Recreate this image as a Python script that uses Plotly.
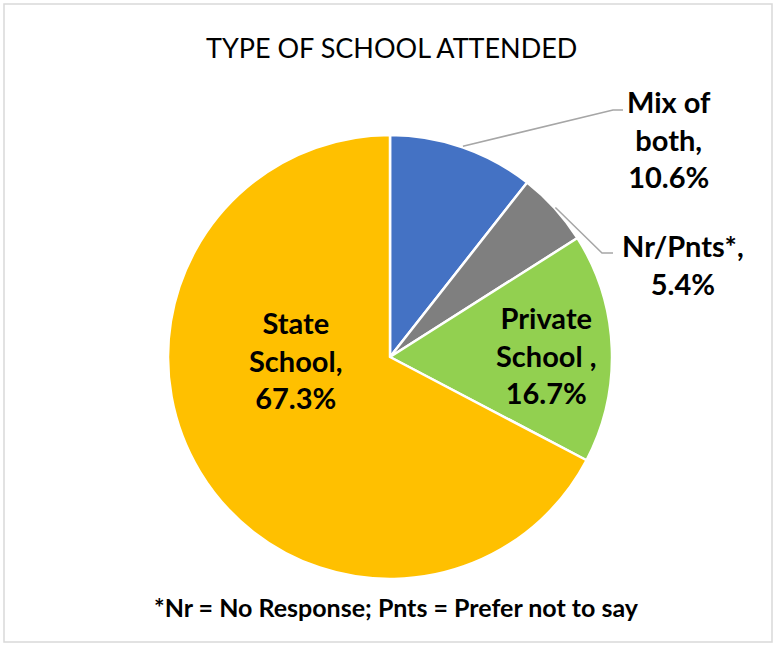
import math
import plotly.graph_objects as go

# Survey shares by school type (clockwise from 12 o'clock)
categories = ["Mix of both", "Nr/Pnts*", "Private School", "State School"]
shares = [10.6, 5.4, 16.7, 67.3]
label_lines = ["Mix of<br>both,", "Nr/Pnts*,", "Private<br>School ,", "State<br>School,"]
title_text = "TYPE OF SCHOOL ATTENDED"
footnote_text = "*Nr = No Response; Pnts = Prefer not to say"

colors = ["#4472C4", "#7F7F7F", "#92D050", "#FFC000"]

W, H = 775, 645
CX, CY, R = 390, 357, 222          # pie centre / radius in pixels
FONT = "Lato"

# label centres (px) and, for outside labels, the leader-line elbow (px)
label_pos = [(669, 139), (683, 264), (546, 355), (296, 360)]
elbows = [((613, 110), (623, 110)), ((602, 253), (613, 253)), None, None]


def to_paper(x, y):
    return x / W, 1 - y / H


fig = go.Figure(
    go.Pie(
        labels=categories,
        values=shares,
        sort=False,
        direction="clockwise",
        rotation=0,
        marker=dict(colors=colors, line=dict(color="white", width=2.5)),
        textinfo="none",
        hoverinfo="label+percent",
        showlegend=False,
        domain=dict(x=[(CX - R) / W, (CX + R) / W],
                    y=[1 - (CY + R) / H, 1 - (CY - R) / H]),
    )
)

annotations = []
shapes = []

total = sum(shares)
cum = 0.0
for i, v in enumerate(shares):
    mid = (cum + v / 2) / total * 2 * math.pi
    cum += v
    lx, ly = to_paper(*label_pos[i])
    annotations.append(dict(
        x=lx, y=ly, xref="paper", yref="paper", showarrow=False,
        xanchor="center", yanchor="middle",
        text=f"<b>{label_lines[i]}<br>{v:.1f}%</b>",
        font=dict(family=FONT, size=29, color="black"), align="center",
    ))
    if elbows[i] is not None:
        sx = CX + (R + 1) * math.sin(mid)
        sy = CY - (R + 1) * math.cos(mid)
        pts = [(sx, sy), elbows[i][0], elbows[i][1]]
        path = "M " + " L ".join(f"{to_paper(x, y)[0]},{to_paper(x, y)[1]}" for x, y in pts)
        shapes.append(dict(type="path", xref="paper", yref="paper", path=path,
                           line=dict(color="#A6A6A6", width=1.5)))

# title and footnote
tx, ty = to_paper(391, 47)
annotations.append(dict(x=tx, y=ty, xref="paper", yref="paper", showarrow=False,
                        xanchor="center", yanchor="middle",
                        text=title_text, font=dict(family=FONT, size=27, color="black")))
fx, fy = to_paper(397, 607)
annotations.append(dict(x=fx, y=fy, xref="paper", yref="paper", showarrow=False,
                        xanchor="center", yanchor="middle",
                        text=f"<b>{footnote_text}</b>",
                        font=dict(family=FONT, size=25, color="black")))

# chart-area frame
x0, y0 = to_paper(4, 4)
x1, y1 = to_paper(772, 642)
shapes.append(dict(type="rect", xref="paper", yref="paper", x0=x0, y0=y1, x1=x1, y1=y0,
                   line=dict(color="#D9D9D9", width=1.5), layer="below"))

fig.update_layout(
    width=W, height=H,
    margin=dict(l=0, r=0, t=0, b=0),
    paper_bgcolor="white", plot_bgcolor="white",
    annotations=annotations, shapes=shapes,
)

fig.write_html("out.html")
